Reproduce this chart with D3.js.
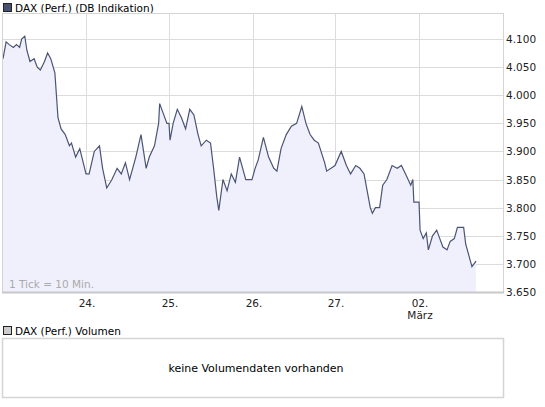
<!DOCTYPE html>
<html><head><meta charset="utf-8">
<script src="https://cdn.jsdelivr.net/npm/d3@7"></script>
<style>body{margin:0;background:#fff}text{font-family:"DejaVu Sans",Verdana,sans-serif}</style>
</head><body><svg id="c" width="545" height="407"></svg>
<script>
const ticks=[0,3,6,10,13,16,18,21,23,26,30,33,36,40,43,46,50,53,56,60,64,66,70,74,80,
83,88,93,96,100,105,110,114,118,122,128,133,138,141,146,150,151,154,158,160,
161,164,168,172,176,180,184,188,191,196,200,203,206,208,212,216,220,224,228,234,240,
243,246,251,256,261,264,268,273,278,283,288,292,296,300,304,310,312,320,
326,331,335,340,344,348,351,354,356,359,363,366,370,375,380,384,388,393,395,396,401,
402,405,408,410,414,418,421,424,428,431,435,438,444,446,449,452,454,456];
const values=[4.065,4.095,4.09,4.085,4.09,4.085,4.1,4.105,4.08,4.06,4.065,4.05,4.045,4.06,4.075,4.065,4.04,3.96,3.94,3.93,3.91,3.915,3.89,3.905,3.86,
3.86,3.9,3.91,3.87,3.835,3.85,3.87,3.86,3.88,3.85,3.89,3.93,3.87,3.89,3.91,3.95,3.985,3.97,3.95,3.95,
3.92,3.95,3.975,3.96,3.94,3.975,3.965,3.93,3.91,3.92,3.915,3.87,3.82,3.795,3.85,3.83,3.86,3.845,3.89,3.85,3.85,
3.87,3.885,3.925,3.89,3.87,3.865,3.905,3.93,3.945,3.95,3.98,3.95,3.93,3.92,3.915,3.88,3.865,3.875,
3.9,3.875,3.86,3.875,3.87,3.86,3.83,3.8,3.79,3.8,3.8,3.84,3.85,3.875,3.87,3.875,3.86,3.84,3.85,3.81,3.81,
3.76,3.745,3.755,3.725,3.75,3.76,3.745,3.73,3.725,3.74,3.745,3.765,3.765,3.735,3.715,3.695,3.7,3.705];
const dayTicks=[80,160,241,320,401];
const dayLabels=["24.","25.","26.","27.","02."];
const yTicks=[3.65,3.7,3.75,3.8,3.85,3.9,3.95,4.0,4.05,4.1];
const svg=d3.select("#c");
const L=3,R=503,T=13,B=292;
const x=d3.scaleLinear().domain([0,80]).range([3,86]);
const y=d3.scaleLinear().domain([3.65,4.1]).range([B,39]);
svg.append("rect").attr("x",3.5).attr("y",3.5).attr("width",8).attr("height",8).attr("fill","#4a5170").attr("stroke","#222");
svg.append("text").attr("x",15).attr("y",11.5).attr("font-size",10.5).text("DAX (Perf.) (DB Indikation)");
const g=svg.append("g");
g.selectAll(".h").data(yTicks).join("line").attr("x1",L).attr("x2",R).attr("y1",d=>Math.round(y(d))+.5).attr("y2",d=>Math.round(y(d))+.5).attr("stroke","#dcdcdc");
g.selectAll(".v").data(dayTicks).join("line").attr("y1",T).attr("y2",B).attr("x1",d=>Math.round(x(d))+.5).attr("x2",d=>Math.round(x(d))+.5).attr("stroke","#dcdcdc");
const pts=ticks.map((t,i)=>[t,values[i]]);
svg.append("path").datum(pts).attr("fill","#f0f0fc").attr("d",d3.area().x(d=>x(d[0])).y0(B).y1(d=>y(d[1])));
svg.append("path").datum(pts).attr("fill","none").attr("stroke","#4b5474").attr("stroke-width",1.2).attr("d",d3.line().x(d=>x(d[0])).y(d=>y(d[1])));
svg.append("rect").attr("x",L-.5).attr("y",T+.5).attr("width",R-L+1).attr("height",B-T).attr("fill","none").attr("stroke","#d4d4d4");
svg.append("line").attr("x1",L-1).attr("x2",R+1).attr("y1",B+.5).attr("y2",B+.5).attr("stroke","#c8c8c8").attr("stroke-width",2);
svg.selectAll(".yl").data(yTicks).join("text").attr("x",506).attr("y",d=>y(d)+4).attr("font-size",10.5).attr("fill","#222").text(d=>d3.format(".3f")(d));
svg.selectAll(".xl").data(dayTicks).join("text").attr("x",d=>x(d)+1).attr("y",307).attr("text-anchor","middle").attr("font-size",10.5).attr("fill","#222").text((d,i)=>dayLabels[i]);
svg.append("text").attr("x",x(401)+1).attr("y",319).attr("text-anchor","middle").attr("font-size",10.5).attr("fill","#222").text("März");
svg.append("text").attr("x",9).attr("y",288).attr("font-size",10.5).attr("fill","#aaa").text("1 Tick = 10 Min.");
svg.append("rect").attr("x",3.5).attr("y",326.5).attr("width",8).attr("height",8).attr("fill","#ccc").attr("stroke","#222");
svg.append("text").attr("x",15).attr("y",334.5).attr("font-size",10.5).text("DAX (Perf.) Volumen");
svg.append("rect").attr("x",2.5).attr("y",338.5).attr("width",501).attr("height",59).attr("fill","none").attr("stroke","#d4d4d4").attr("stroke-width",1.5);
svg.append("text").attr("x",256).attr("y",372).attr("text-anchor","middle").attr("font-size",11).text("keine Volumendaten vorhanden");
</script></body></html>
